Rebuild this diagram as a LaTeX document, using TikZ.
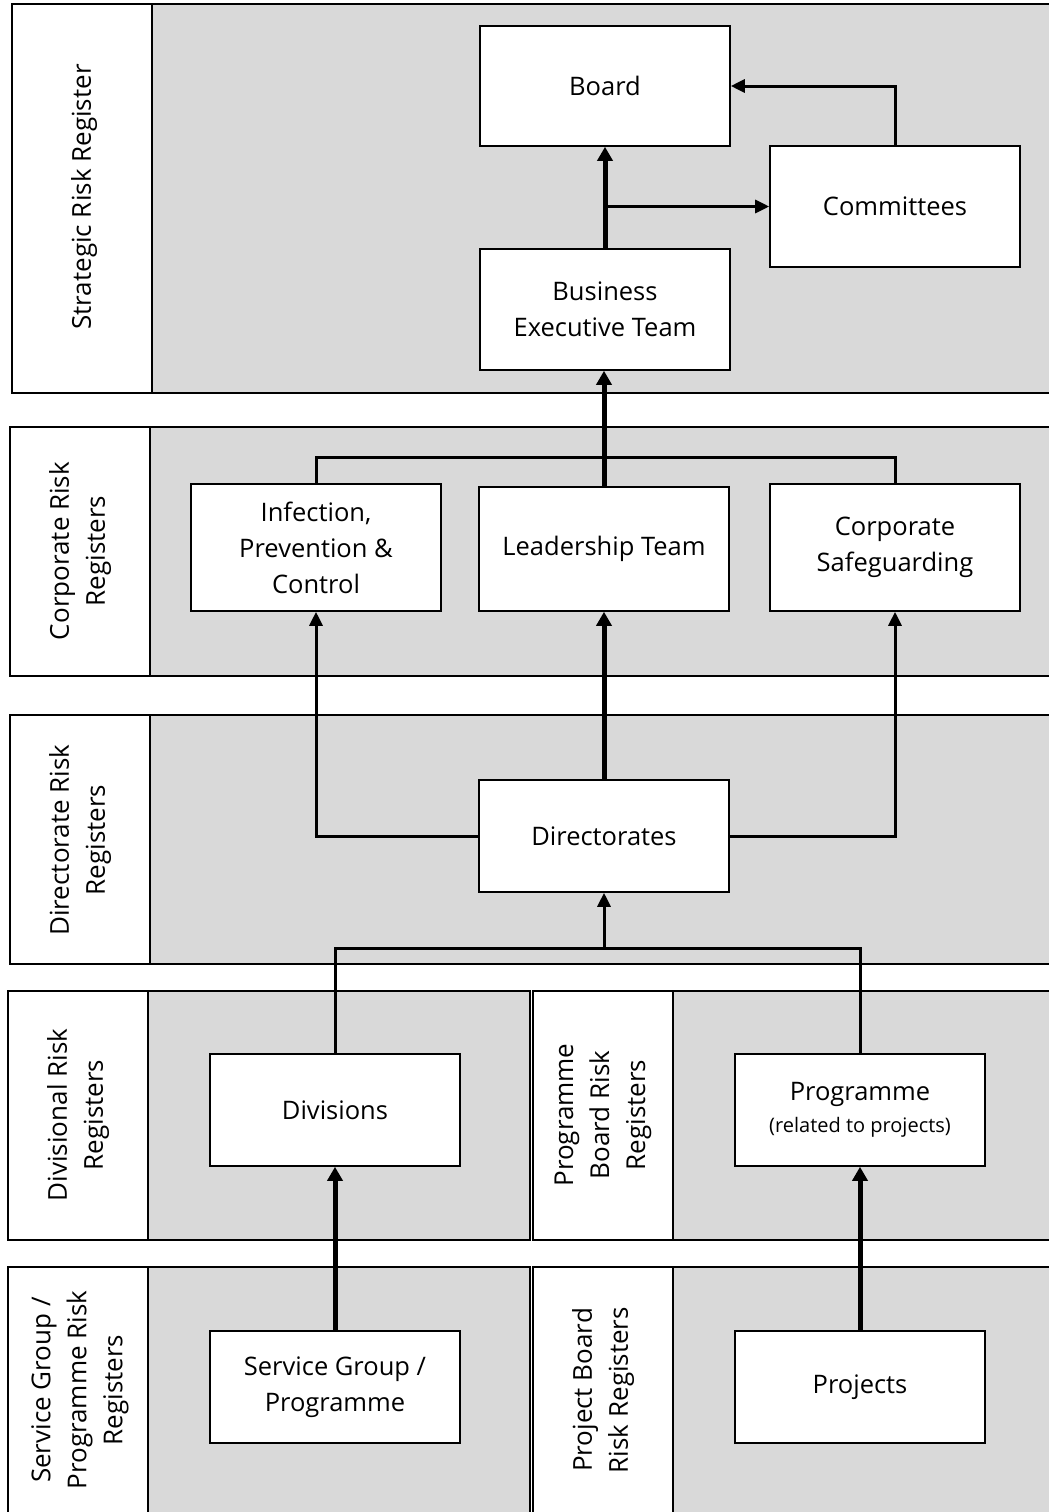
\documentclass[tikz,border=0pt]{standalone}
\usepackage{fontspec}
\setmainfont{Open Sans}
\usetikzlibrary{arrows.meta}
\definecolor{bandgray}{HTML}{D9D9D9}
\tikzset{
  box/.style={draw, fill=white, line width=1.6pt, minimum width=250pt, inner sep=0pt, align=center,
              font=\fontsize{25.5}{36}\selectfont},
  lbl/.style={rotate=90, align=center, font=\fontsize{26}{36}\selectfont, inner sep=0pt},
  conn/.style={line width=3pt, -{Triangle[length=14pt,width=13pt]}},
  plain/.style={line width=3pt},
  thick conn/.style={line width=5pt, -{Triangle[length=14pt,width=15pt]}},
  bandline/.style={line width=1.6pt}
}
\newcommand{\myband}[5]{% x1,y1,x2,y2,divider x
  \fill[bandgray] (#1,#2) rectangle (#3,#4);
  \fill[white] (#1,#2) rectangle (#5,#4);
  \draw[bandline] (#1,#2) rectangle (#3,#4);
  \draw[bandline] (#5,#2) -- (#5,#4);
}
\begin{document}
\begin{tikzpicture}[x=1pt,y=-1pt]
\useasboundingbox (0,0) rectangle (1049,1512);
% bands
\myband{12}{4}{1050}{393}{152}
\myband{10}{427}{1050}{676}{150}
\myband{10}{715}{1050}{964}{150}
\myband{8}{991}{530}{1240}{148}
\myband{533}{991}{1050}{1240}{673}
\myband{8}{1267}{530}{1514}{148}
\myband{533}{1267}{1050}{1514}{673}
% band labels
\node[lbl] (l1) at (84,197) {Strategic Risk Register};
\node[lbl] (l2) at (80,551) {Corporate Risk\\Registers};
\node[lbl] (l3) at (80,840) {Directorate Risk\\Registers};
\node[lbl] (l4) at (78,1115) {Divisional Risk\\Registers};
\node[lbl] (l5) at (603,1115) {Programme\\Board Risk\\Registers};
\node[lbl] (l6) at (80,1390) {Service Group /\\Programme Risk\\Registers};
\node[lbl] (l7) at (603,1390) {Project Board\\Risk Registers};
% boxes
\node[box, minimum height=120pt] (board) at (605,86) {Board};
\node[box, minimum height=121pt] (comm) at (895,206.5) {Committees};
\node[box, minimum height=121pt] (bet) at (605,309.5) {Business\\Executive Team};
\node[box, minimum height=127pt] (ipc) at (316,547.5) {Infection,\\Prevention \&\\Control};
\node[box, minimum height=124pt] (lead) at (604,549) {Leadership Team};
\node[box, minimum height=127pt] (safe) at (895,547.5) {Corporate\\Safeguarding};
\node[box, minimum height=112pt] (dir) at (604,836) {Directorates};
\node[box, minimum height=112pt] (div) at (335,1110) {Divisions};
\node[box, minimum height=112pt] (prog) at (860,1110) {Programme\\[-4pt]{\fontsize{20}{26}\selectfont (related to projects)}};
\node[box, minimum height=112pt] (sgp) at (335,1387) {Service Group /\\Programme};
\node[box, minimum height=112pt] (proj) at (860,1387) {Projects};
% junction coordinates
\coordinate (jt) at (604,457);
\coordinate (jd) at (604,948);
% connectors
\draw[thick conn] (bet.north) -- (board.south);
\draw[conn] (bet.north |- comm.west) -- (comm.west);
\draw[conn] (comm.north) |- (board.east);
\draw[plain] (ipc.north) |- (jt) -| (safe.north);
\draw[thick conn] (lead.north) -- (lead.north |- bet.south);
\draw[conn] (dir.west) -| (ipc.south);
\draw[conn] (dir.east) -| (safe.south);
\draw[thick conn] (dir.north) -- (lead.south);
\draw[plain] (div.north) |- (jd) -| (prog.north);
\draw[conn] (jd) -- (dir.south);
\draw[thick conn] (sgp.north) -- (div.south);
\draw[thick conn] (proj.north) -- (prog.south);
\end{tikzpicture}
\end{document}
